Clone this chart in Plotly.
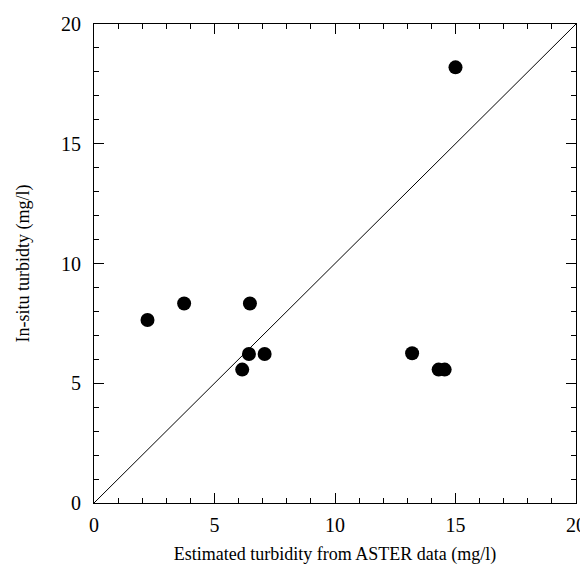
import plotly.graph_objects as go

aster_est = [2.22, 3.74, 6.47, 6.43, 7.08, 6.15, 13.2, 14.3, 14.55, 15.0]
in_situ = [7.64, 8.33, 8.33, 6.22, 6.22, 5.57, 6.25, 5.57, 5.57, 18.19]
line_xy = [0, 20]

fig = go.Figure()
fig.add_trace(go.Scatter(x=line_xy, y=line_xy, mode="lines",
                         line=dict(color="black", width=1), showlegend=False))
fig.add_trace(go.Scatter(x=aster_est, y=in_situ, mode="markers",
                         marker=dict(color="black", size=14), showlegend=False))

axis_common = dict(
    range=[0, 20], dtick=5, tick0=0, ticks="inside", ticklen=10, tickwidth=1,
    tickcolor="black", showline=True, linecolor="black", linewidth=1,
    mirror="ticks", showgrid=False, zeroline=False, automargin=False,
    tickfont=dict(family="Liberation Serif", size=20, color="black"),
    minor=dict(dtick=1, ticks="inside", ticklen=5, tickcolor="black", showgrid=False),
)

fig.update_layout(
    width=588, height=564,
    margin=dict(l=86, r=20, t=16, b=69),
    plot_bgcolor="white", paper_bgcolor="white",
    font=dict(family="Liberation Serif", color="black"),
    xaxis=dict(**axis_common, ticklabelstandoff=4,
               title=dict(text="Estimated turbidity from ASTER data (mg/l)",
                          font=dict(size=18), standoff=12)),
    yaxis=dict(**axis_common, ticklabelstandoff=8,
               title=dict(text="In-situ turbidty (mg/l)",
                          font=dict(size=18), standoff=26)),
)

fig.write_html("out.html")
